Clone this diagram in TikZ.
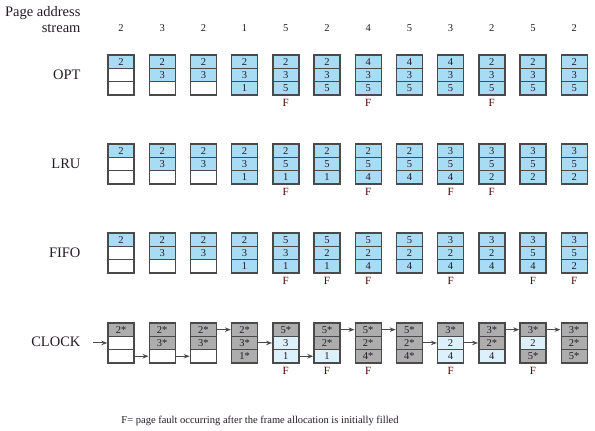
\documentclass[tikz,border=0pt]{standalone}
\usepackage{fontspec}
\setmainfont{Liberation Serif}
\usetikzlibrary{arrows.meta}

\definecolor{pagina}{HTML}{A8DBF4}
\definecolor{claro}{HTML}{DCF1FB}
\definecolor{usado}{HTML}{ADADAD}
\definecolor{branco}{HTML}{FFFFFF}
\definecolor{borda}{HTML}{4A4A4A}
\definecolor{tinta}{HTML}{241A28}

\tikzset{
  quadro/.style={draw=borda, line width=1.4pt, fill=white, minimum width=26pt,
    minimum height=13.3pt, inner sep=0pt, text=tinta, font=\fontsize{10.5}{10.5}\selectfont},
  cheio/.style={fill=pagina},
  vazio/.style={fill=white},
  rotulo/.style={anchor=east, text=tinta, font=\fontsize{14.5}{16}\selectfont},
  numero/.style={text=tinta, font=\fontsize{10.5}{12}\selectfont},
  falta/.style={text=red!35!black, font=\fontsize{11}{12}\selectfont},
  seta/.style={draw=borda, line width=1pt, -{Stealth[length=6pt,width=4.5pt]}}
}

\def\traco{-}
\newcommand{\celula}[4]{% nome, x, y, valor
  \edef\valor{#4}%
  \ifx\valor\traco
    \node[quadro,vazio] (#1) at (#2,#3) {};
  \else
    \node[quadro,cheio] (#1) at (#2,#3) {#4};
  \fi}

\begin{document}
\begin{tikzpicture}[x=1pt,y=-1pt]
\useasboundingbox (0,0) rectangle (595,431);

% Cabecalho
\node[rotulo] (pagina) at (84,13) {Page address};
\node[rotulo] (fluxo) at (84,28) {stream};
\foreach \col/\p in {1/2,2/3,3/2,4/1,5/5,6/2,7/4,8/5,9/3,10/2,11/5,12/2}
  \node[numero] (ref-\col) at ({121+41.2*(\col-1)},28) {\p};

% OPT
\node[rotulo] (opt) at (84,75) {OPT};
\foreach \col/\a/\b/\c in {1/2/-/-,2/2/3/-,3/2/3/-,4/2/3/1,5/2/3/5,6/2/3/5,
    7/4/3/5,8/4/3/5,9/4/3/5,10/2/3/5,11/2/3/5,12/2/3/5}{
  \pgfmathsetmacro\xc{121+41.2*(\col-1)}
  \celula{opt-\col-1}{\xc}{61.65}{\a}
  \celula{opt-\col-2}{\xc}{74.95}{\b}
  \celula{opt-\col-3}{\xc}{88.25}{\c}
}
\foreach \col in {5,7,10}
  \node[falta] (opt-f-\col) at ({121+41.2*(\col-1)},103) {F};

% LRU
\node[rotulo] (lru) at (84,164) {LRU};
\foreach \col/\a/\b/\c in {1/2/-/-,2/2/3/-,3/2/3/-,4/2/3/1,5/2/5/1,6/2/5/1,
    7/2/5/4,8/2/5/4,9/3/5/4,10/3/5/2,11/3/5/2,12/3/5/2}{
  \pgfmathsetmacro\xc{121+41.2*(\col-1)}
  \celula{lru-\col-1}{\xc}{150.65}{\a}
  \celula{lru-\col-2}{\xc}{163.95}{\b}
  \celula{lru-\col-3}{\xc}{177.25}{\c}
}
\foreach \col in {5,7,9,10}
  \node[falta] (lru-f-\col) at ({121+41.2*(\col-1)},192) {F};

% FIFO
\node[rotulo] (fifo) at (84,253) {FIFO};
\foreach \col/\a/\b/\c in {1/2/-/-,2/2/3/-,3/2/3/-,4/2/3/1,5/5/3/1,6/5/2/1,
    7/5/2/4,8/5/2/4,9/3/2/4,10/3/2/4,11/3/5/4,12/3/5/2}{
  \pgfmathsetmacro\xc{121+41.2*(\col-1)}
  \celula{fifo-\col-1}{\xc}{239.65}{\a}
  \celula{fifo-\col-2}{\xc}{252.95}{\b}
  \celula{fifo-\col-3}{\xc}{266.25}{\c}
}
\foreach \col in {5,6,7,9,11,12}
  \node[falta] (fifo-f-\col) at ({121+41.2*(\col-1)},281) {F};

% CLOCK
\node[rotulo] (clock) at (84,342) {CLOCK};
\foreach \col/\a/\b/\c/\sa/\sb/\sc in {
    1/2*/{}/{}/usado/branco/branco, 2/2*/3*/{}/usado/usado/branco,
    3/2*/3*/{}/usado/usado/branco, 4/2*/3*/1*/usado/usado/usado,
    5/5*/3/1/usado/claro/claro, 6/5*/2*/1/usado/usado/claro,
    7/5*/2*/4*/usado/usado/usado, 8/5*/2*/4*/usado/usado/usado,
    9/3*/2/4/usado/claro/claro, 10/3*/2*/4/usado/usado/claro,
    11/3*/2/5*/usado/claro/usado, 12/3*/2*/5*/usado/usado/usado}{
  \pgfmathsetmacro\xc{121+41.2*(\col-1)}
  \node[quadro,fill=\sa] (clk-\col-1) at (\xc,329.65) {\a};
  \node[quadro,fill=\sb] (clk-\col-2) at (\xc,342.95) {\b};
  \node[quadro,fill=\sc] (clk-\col-3) at (\xc,356.25) {\c};
}
\foreach \col in {5,6,7,9,11}
  \node[falta] (clk-f-\col) at ({121+41.2*(\col-1)},371) {F};

% Ponteiro
\coordinate (inicio) at (93,342.95);
\draw[seta] (inicio) -- (clk-1-2.west);
\foreach \col/\r [evaluate=\col as \ant using int(\col-1)] in
    {2/3,3/3,4/1,5/2,6/3,7/1,8/1,9/2,10/2,11/1,12/1}
  \draw[seta] (clk-\ant-\r.east) -- (clk-\col-\r.west);

% Legenda
\node[numero, font=\fontsize{10.5}{12}\selectfont] (legenda) at (260,421)
  {F= page fault occurring after the frame allocation is initially filled};

\end{tikzpicture}
\end{document}
